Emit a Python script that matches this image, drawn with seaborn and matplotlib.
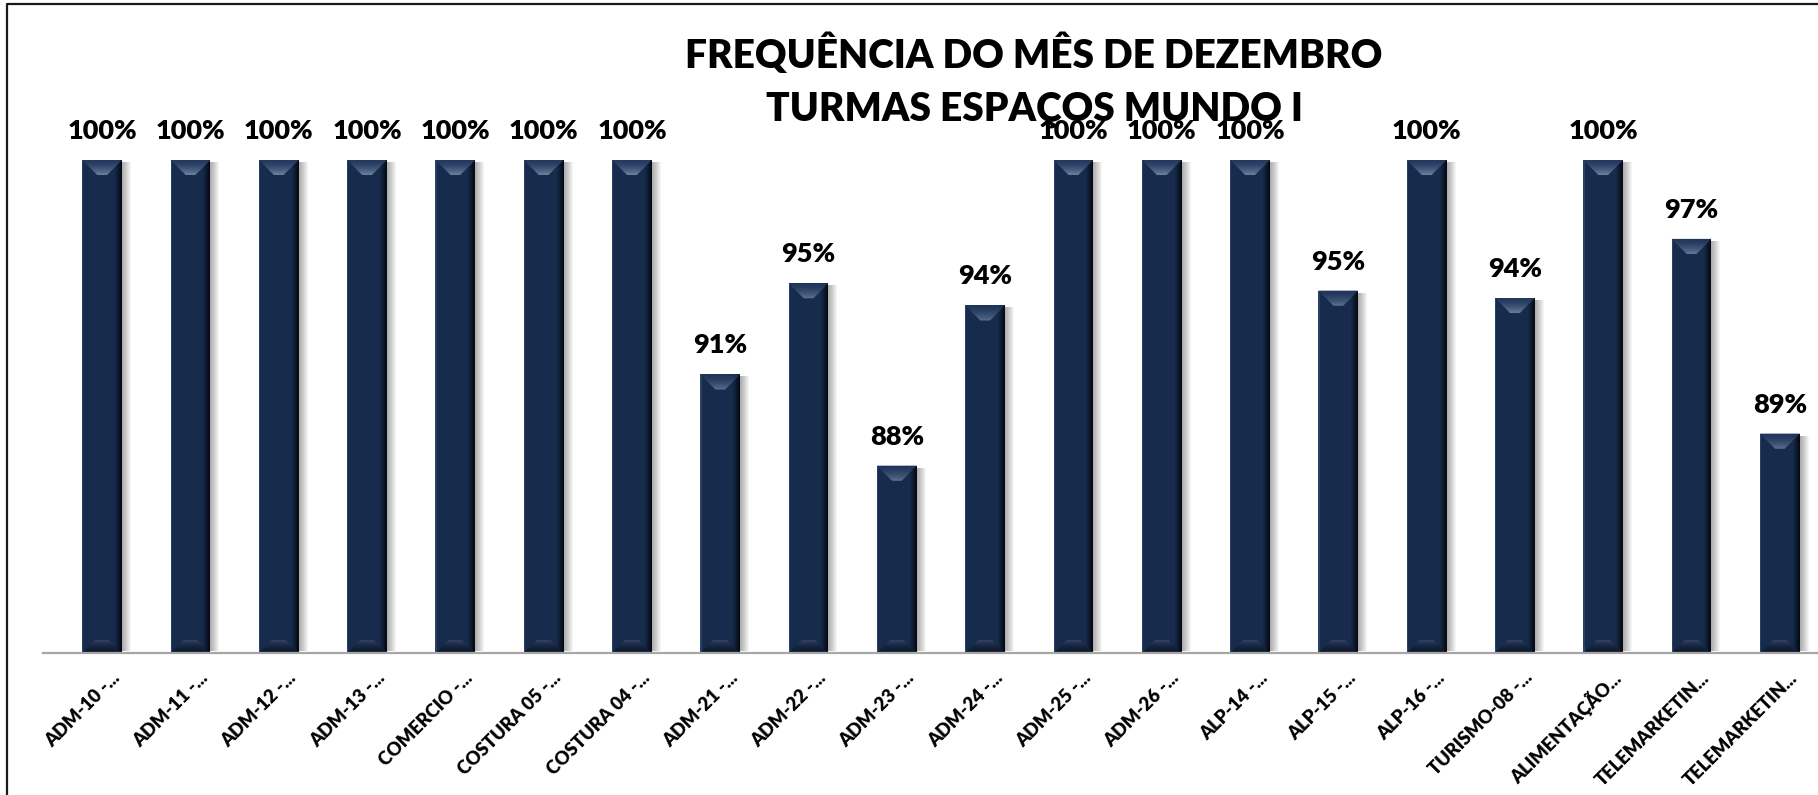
import numpy as np
import pandas as pd
import matplotlib
matplotlib.use("Agg")
import matplotlib.pyplot as plt
import matplotlib.transforms as mtransforms
from matplotlib.patches import Polygon, Rectangle
from matplotlib.lines import Line2D
import seaborn as sns

# ---- data ----
categories = ["ADM-10 -...", "ADM-11 -...", "ADM-12 -...", "ADM-13 -...", "COMERCIO -...",
              "COSTURA 05 -...", "COSTURA 04 -...", "ADM-21 -...", "ADM-22 -...", "ADM-23 -...",
              "ADM-24 -...", "ADM-25 -...", "ADM-26 -...", "ALP-14 -...", "ALP-15 -...",
              "ALP-16 -...", "TURISMO-08 -...", "ALIMENTAÇÃO...", "TELEMARKETIN...", "TELEMARKETIN..."]
values = [100, 100, 100, 100, 100, 100, 100, 91.3, 95.0, 87.6,
          94.1, 100, 100, 100, 94.7, 100, 94.4, 100, 96.8, 88.9]
title_lines = ["FREQUÊNCIA DO MÊS DE DEZEMBRO", "TURMAS ESPAÇOS MUNDO I"]

df = pd.DataFrame({"turma": [f"{i}" for i in range(len(categories))], "freq": values})

W, H, DPI = 1818, 795, 100
sns.set_theme(style="white")
plt.rcParams["font.family"] = ["Lato", "DejaVu Sans"]

fig = plt.figure(figsize=(W / DPI, H / DPI), dpi=DPI)
fig.patch.set_facecolor("white")

ax_left, ax_bottom = 43 / W, (H - 653) / H
ax_w, ax_h = 1781 / W, 493 / H
ax = fig.add_axes([ax_left, ax_bottom, ax_w, ax_h])

BODY = "#172b4d"
sns.barplot(data=df, x="turma", y="freq", color=BODY, saturation=1, width=0.45,
            edgecolor="none", linewidth=0, ax=ax, zorder=3)

xlim = (-0.67, 19.5)
ylim = (80, 100)
ax.set_xlim(*xlim)
ax.set_ylim(*ylim)
ax.set_xlabel("")
ax.set_ylabel("")
ax.set_yticks([])
for s in ["top", "right", "left"]:
    ax.spines[s].set_visible(False)
ax.spines["bottom"].set_color("#a6a6a6")
ax.spines["bottom"].set_linewidth(1.6)
ax.spines["bottom"].set_zorder(6)
ax.set_facecolor("none")

# px -> data scales
sx = (xlim[1] - xlim[0]) / (ax_w * W)
sy = (ylim[1] - ylim[0]) / (ax_h * H)


def mix(c1, c2, t):
    a = np.array(matplotlib.colors.to_rgb(c1))
    b = np.array(matplotlib.colors.to_rgb(c2))
    return tuple(a + (b - a) * t)


bars = [p for p in ax.patches]
for p, v in zip(bars, values):
    x0 = p.get_x()
    w = p.get_width()
    x1 = x0 + w
    top = p.get_y() + p.get_height()
    bot = ylim[0]
    # shadow to the right
    for k in range(1, 10):
        ax.add_patch(Rectangle((x1, bot + 2 * sy), k * sx, (top - bot) - 4 * sy,
                               facecolor="black", alpha=0.04, lw=0, zorder=2))
    # right dark edge gradient
    n = 7
    for k in range(n):
        ax.add_patch(Rectangle((x1 - (n - k) * sx, bot), sx, top - bot,
                               facecolor=mix(BODY, "#050a14", (k + 1) / n), lw=0, zorder=4))
    # left thin edge
    ax.add_patch(Rectangle((x0, bot), 1.2 * sx, top - bot,
                           facecolor="#2a4066", lw=0, zorder=4))
    # top bevel (trapezoid, gradient to a lighter band)
    D = 15
    for k in range(D):
        t0, t1 = k, k + 1
        frac = (k + 0.5) / D
        col = mix("#22385d", "#6d82a0", frac ** 1.6)
        poly = [(x0 + t0 * sx, top - t0 * sy), (x1 - t0 * sx, top - t0 * sy),
                (x1 - t1 * sx, top - t1 * sy), (x0 + t1 * sx, top - t1 * sy)]
        ax.add_patch(Polygon(poly, closed=True, facecolor=col, lw=0, zorder=5))
    # bottom bevel
    Db = 13
    for k in range(Db):
        t0, t1 = k, k + 1
        frac = (k + 0.5) / Db
        col = mix("#0e1a2f", "#2f4468", frac ** 2)
        poly = [(x0 + t0 * sx, bot + t0 * sy), (x1 - t0 * sx, bot + t0 * sy),
                (x1 - t1 * sx, bot + t1 * sy), (x0 + t1 * sx, bot + t1 * sy)]
        ax.add_patch(Polygon(poly, closed=True, facecolor=col, lw=0, zorder=5))
    # value label
    ax.annotate(f"{v:.0f}%", xy=(x0 + w / 2, top), xytext=(0, 29 * 72 / DPI),
                textcoords="offset points", ha="center", va="center",
                fontsize=19.5, fontweight="heavy", color="black",
                annotation_clip=False, zorder=7)

# tick labels
ax.set_xticks(range(len(categories)))
ax.set_xticklabels(categories, rotation=45, ha="right", va="center",
                   rotation_mode="anchor", fontsize=13.2, fontweight="heavy", color="black")
ax.tick_params(axis="x", length=0, pad=0)
offset = mtransforms.ScaledTranslation(15 / DPI, -22 / DPI, fig.dpi_scale_trans)
for lab in ax.get_xticklabels():
    lab.set_transform(lab.get_transform() + offset)

# title
fig.text(1034 / W, 1 - 54.5 / H, title_lines[0], ha="center", va="center",
         fontsize=28, fontweight="heavy", color="black")
fig.text(1034 / W, 1 - 110 / H, title_lines[1], ha="center", va="center",
         fontsize=28, fontweight="heavy", color="black")

# chart frame (left and top edges visible)
fig.add_artist(Line2D([7 / W, 7 / W, 1.0], [0.0, 1 - 4 / H, 1 - 4 / H],
                      transform=fig.transFigure, color="#1a1a1a", lw=1.6))

fig.savefig("out.png", dpi=DPI)
